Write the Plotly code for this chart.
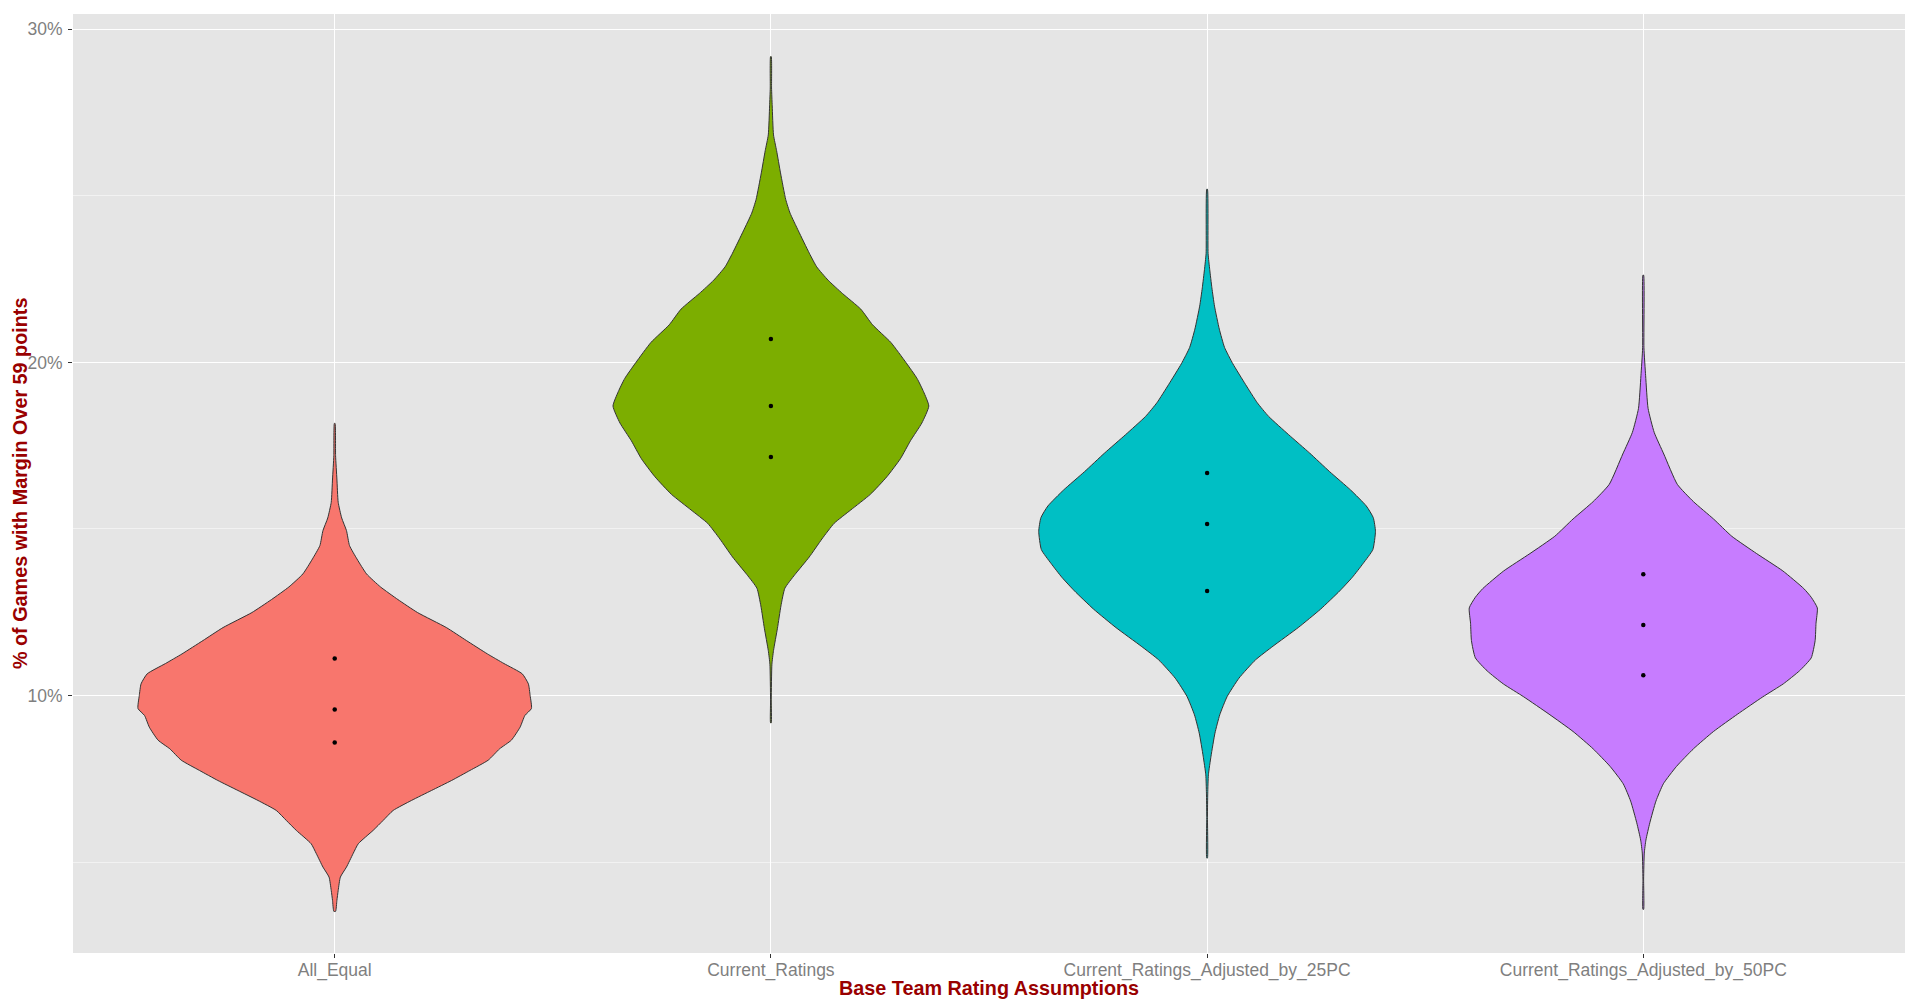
import plotly.graph_objects as go

categories = ["All_Equal", "Current_Ratings", "Current_Ratings_Adjusted_by_25PC", "Current_Ratings_Adjusted_by_50PC"]
fill_colors = ["#F8766D", "#7CAE00", "#00BFC4", "#C77CFF"]

# Violin outlines: y value (%) and density half-width (category units), top to bottom
all_equal_y = [18.17, 17.2, 16.5, 15.8, 15.33, 14.95, 14.5, 14.1, 13.65, 13.26, 12.88, 12.49, 12.04, 11.65,
               11.25, 10.96, 10.65, 10.35, 10.0, 9.61, 9.4, 9.05, 8.66, 8.4, 8.06, 7.75, 7.45, 7.15, 6.85,
               6.55, 6.25, 5.95, 5.55, 5.25, 4.85, 4.55, 4.15, 3.85, 3.52]
all_equal_w = [0.0008, 0.002, 0.005, 0.008, 0.016, 0.027, 0.034, 0.051, 0.073, 0.105, 0.145, 0.19, 0.256, 0.302,
               0.35, 0.388, 0.43, 0.444, 0.448, 0.451, 0.436, 0.425, 0.405, 0.378, 0.352, 0.31, 0.268, 0.222, 0.176,
               0.134, 0.111, 0.088, 0.054, 0.042, 0.027, 0.013, 0.008, 0.005, 0.002]

current_y = [29.18, 28.24, 27.7, 26.83, 26.36, 25.69, 24.89, 24.48, 23.95, 23.28, 22.87, 22.47, 22.07, 21.6,
             21.13, 20.6, 19.99, 19.52, 19.12, 18.69, 18.18, 17.65, 17.11, 16.57, 16.04, 15.57, 15.17, 14.7,
             14.16, 13.63, 13.22, 12.69, 12.02, 11.35, 10.94, 9.87, 9.18]
current_w = [0.0008, 0.0015, 0.003, 0.006, 0.013, 0.022, 0.034, 0.044, 0.063, 0.088, 0.105, 0.131, 0.164, 0.206,
             0.233, 0.275, 0.31, 0.335, 0.35, 0.362, 0.346, 0.32, 0.297, 0.266, 0.228, 0.183, 0.145, 0.117,
             0.088, 0.055, 0.032, 0.023, 0.015, 0.006, 0.0023, 0.0008, 0.0008]

adj25_y = [25.2, 23.27, 22.79, 22.24, 21.69, 21.0, 20.45, 19.96, 19.34, 18.79, 18.38, 17.83, 17.28, 16.72,
           16.17, 15.69, 15.34, 14.93, 14.38, 13.97, 13.55, 13.14, 12.59, 12.04, 11.48, 11.07, 10.52, 9.97,
           9.42, 8.87, 8.18, 7.62, 7.07, 6.38, 5.12]
adj25_w = [0.0008, 0.0023, 0.006, 0.011, 0.017, 0.028, 0.040, 0.059, 0.088, 0.115, 0.141, 0.187, 0.235, 0.281,
           0.329, 0.365, 0.381, 0.386, 0.380, 0.358, 0.333, 0.304, 0.260, 0.209, 0.151, 0.111, 0.073, 0.046,
           0.029, 0.018, 0.009, 0.003, 0.0015, 0.0008, 0.0008]

adj50_y = [22.62, 20.44, 19.6, 18.62, 17.9, 17.25, 16.34, 15.82, 15.3, 14.78, 14.26, 13.74, 13.21, 12.95,
           12.63, 12.17, 11.65, 11.13, 10.74, 10.35, 9.96, 9.44, 8.92, 8.4, 7.87, 7.35, 6.83, 6.18, 5.66,
           5.27, 4.49, 3.58]
adj50_w = [0.0008, 0.0015, 0.0054, 0.011, 0.025, 0.047, 0.078, 0.115, 0.161, 0.203, 0.26, 0.32, 0.368, 0.385,
           0.399, 0.396, 0.394, 0.385, 0.358, 0.321, 0.274, 0.216, 0.161, 0.115, 0.076, 0.046, 0.029, 0.015,
           0.006, 0.0023, 0.0008, 0.0008]

# Quartile points (25th, 50th, 75th percentiles)
all_equal_q = [8.59, 9.58, 11.11]
current_q = [17.16, 18.69, 20.70]
adj25_q = [13.14, 15.15, 16.68]
adj50_q = [10.61, 12.12, 13.64]

y_ticks = [10, 20, 30]
y_tick_labels = ["10%", "20%", "30%"]
y_minor = [5, 15, 25]

profiles = [(all_equal_y, all_equal_w, all_equal_q),
            (current_y, current_w, current_q),
            (adj25_y, adj25_w, adj25_q),
            (adj50_y, adj50_w, adj50_q)]

fig = go.Figure()
for i, (ys, ws, qs) in enumerate(profiles):
    xs = [i + w for w in ws] + [i - w for w in reversed(ws)] + [i + ws[0]]
    yy = list(ys) + list(reversed(ys)) + [ys[0]]
    fig.add_trace(go.Scatter(x=xs, y=yy, mode="lines", fill="toself",
                             fillcolor=fill_colors[i],
                             line=dict(color="#333333", width=1, shape="spline", smoothing=0.5),
                             name=categories[i], showlegend=False, hoverinfo="skip"))
for i, (ys, ws, qs) in enumerate(profiles):
    fig.add_trace(go.Scatter(x=[i] * len(qs), y=qs, mode="markers",
                             marker=dict(color="black", size=4.5),
                             showlegend=False, hoverinfo="y"))

# page body has an 8px margin; size the figure so the panel lands where the reference has it
OFF = 8
W, H = 1920 - OFF, 1005 - OFF
ml, mr, mt, mb = 73 - OFF, 15, 14 - OFF, 52
pw = W - ml - mr
ph = H - mt - mb

title_font = dict(family="Liberation Sans, Arial, sans-serif", size=19.8, color="#990000")
fig.update_layout(
    width=W, height=H,
    margin=dict(l=ml, r=mr, t=mt, b=mb, pad=0),
    paper_bgcolor="white",
    plot_bgcolor="#E5E5E5",
    font=dict(family="Liberation Sans, Arial, sans-serif", size=17.5, color="#7F7F7F"),
    xaxis=dict(range=[-0.6, 3.6], tickmode="array", tickvals=list(range(len(categories))),
               ticktext=categories, showgrid=True, gridcolor="white", gridwidth=1.2,
               zeroline=False, ticks="outside", ticklen=4, tickcolor="#333333", tickwidth=1,
               showline=False, ticklabelstandoff=-3, tickfont=dict(size=17.5, color="#7F7F7F")),
    yaxis=dict(range=[2.27, 30.46], tickmode="array", tickvals=y_ticks, ticktext=y_tick_labels,
               showgrid=True, gridcolor="white", gridwidth=1.2, zeroline=False,
               ticks="outside", ticklen=4, tickcolor="#333333", tickwidth=1, showline=False,
               ticklabelstandoff=2, tickfont=dict(size=17.5, color="#7F7F7F"),
               minor=dict(tickvals=y_minor, showgrid=True, gridcolor="#F2F2F2", gridwidth=1, ticks="")),
    annotations=[
        dict(text="<b>Base Team Rating Assumptions</b>", xref="paper", yref="paper",
             x=0.5, y=(ph - (988 - OFF - mt)) / ph, xanchor="center", yanchor="middle", showarrow=False,
             font=title_font),
        dict(text="<b>% of Games with Margin Over 59 points</b>", xref="paper", yref="paper",
             x=(19.6 - OFF - ml) / pw, y=0.5, xanchor="center", yanchor="middle", showarrow=False,
             textangle=-90, font=title_font),
    ],
)

fig.write_html("out.html")
